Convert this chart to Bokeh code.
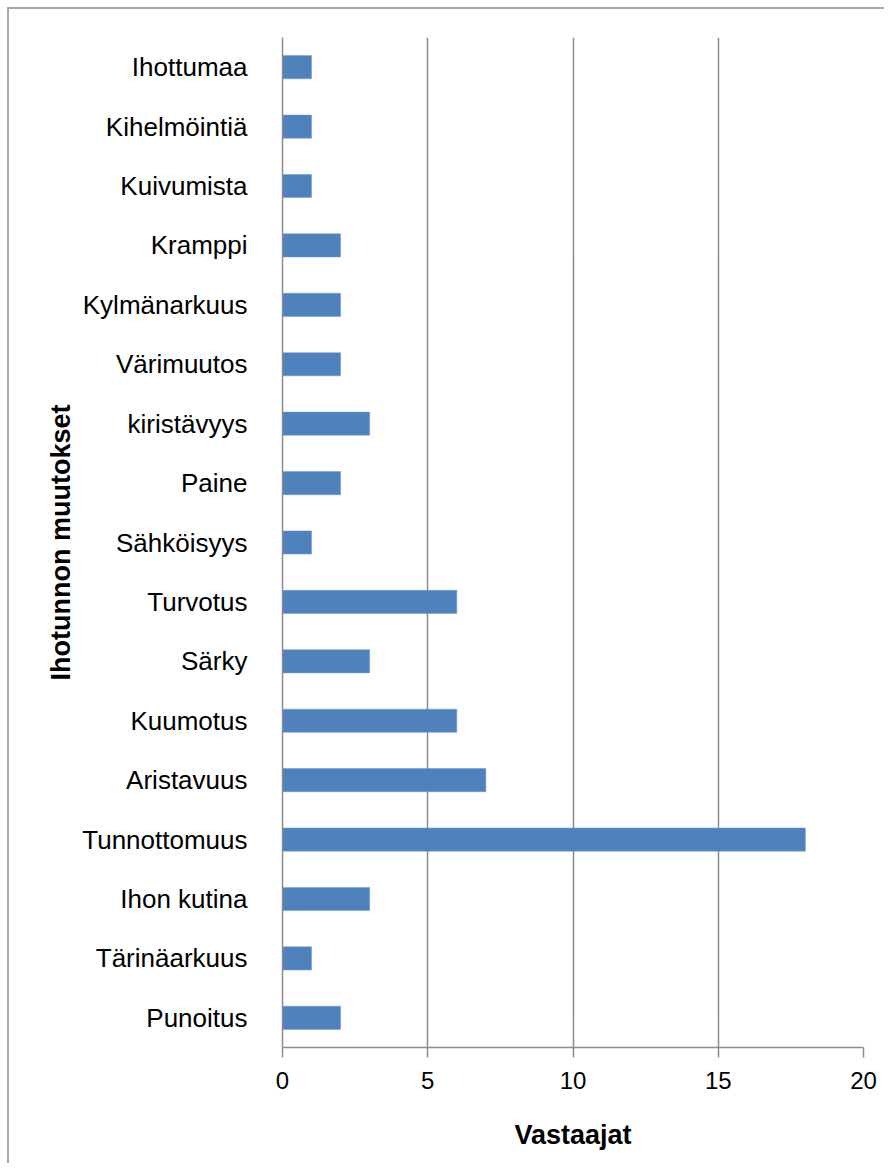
from bokeh.plotting import figure
from bokeh.embed import file_html
from bokeh.resources import INLINE
from bokeh.models import FixedTicker, Range1d

categories = ["Ihottumaa", "Kihelmöintiä", "Kuivumista", "Kramppi", "Kylmänarkuus",
              "Värimuutos", "kiristävyys", "Paine", "Sähköisyys", "Turvotus", "Särky",
              "Kuumotus", "Aristavuus", "Tunnottomuus", "Ihon kutina", "Tärinäarkuus", "Punoitus"]
values = [1, 1, 1, 2, 2, 2, 3, 2, 1, 6, 3, 6, 7, 18, 3, 1, 2]
x_ticks = [0, 5, 10, 15, 20]

FONT = "'Liberation Sans Narrow', 'Arial Narrow', 'Liberation Sans', sans-serif"
GRID = "#8c8c8c"

p = figure(width=877, height=1156, y_range=list(reversed(categories)),
           x_range=Range1d(0, 20), output_backend="svg", toolbar_location=None,
           min_border_left=273, min_border_right=23, min_border_top=28, min_border_bottom=118)
p.outline_line_color = None
p.styles = {"border-left": "2px solid #a8a8a8", "border-top": "2px solid #a8a8a8",
            "margin-left": "7px", "margin-top": "7px"}

p.hbar(y=categories, right=values, left=0, height=0.39, fill_color="#4F81BD",
       line_color="#6f9bd0", line_width=0.5)

p.y_range.range_padding = 0
p.xgrid.ticker = FixedTicker(ticks=x_ticks)
p.xgrid.grid_line_color = GRID
p.xgrid.grid_line_width = 1.5
p.ygrid.grid_line_color = None

xa = p.xaxis[0]
xa.ticker = FixedTicker(ticks=x_ticks)
xa.axis_line_color = GRID
xa.axis_line_width = 1.5
xa.major_tick_line_color = GRID
xa.major_tick_line_width = 1.5
xa.major_tick_out = 10
xa.major_tick_in = 0
xa.minor_tick_line_color = None
xa.major_label_text_font = FONT
xa.major_label_text_font_size = "24px"
xa.major_label_text_color = "black"
xa.major_label_standoff = 14
xa.axis_label = "Vastaajat"
xa.axis_label_text_font = FONT
xa.axis_label_text_font_style = "bold"
xa.axis_label_text_font_size = "27px"
xa.axis_label_text_color = "black"
xa.axis_label_standoff = 28

ya = p.yaxis[0]
ya.axis_line_color = GRID
ya.axis_line_width = 1.5
ya.major_tick_line_color = None
ya.minor_tick_line_color = None
ya.major_label_text_font = FONT
ya.major_label_text_font_size = "26px"
ya.major_label_text_color = "black"
ya.major_label_standoff = 29
ya.axis_label = "Ihotunnon muutokset"
ya.axis_label_text_font = FONT
ya.axis_label_text_font_style = "bold"
ya.axis_label_text_font_size = "27px"
ya.axis_label_text_color = "black"
ya.axis_label_standoff = 3

open("out.html", "w").write(file_html(p, INLINE))
